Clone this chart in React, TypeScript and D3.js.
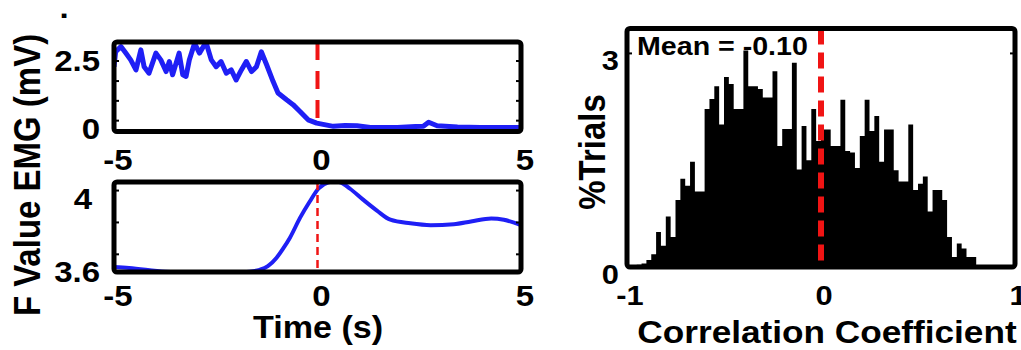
import React from "react";
import * as d3 from "d3";

// EMG (mV), top left panel
const emgTime = [
  -5.0, -4.96, -4.83, -4.71, -4.59, -4.46, -4.34, -4.26, -4.14, -3.97, -3.85, -3.72, -3.64, -3.56,
  -3.4, -3.31, -3.23, -3.15, -3.02, -2.9, -2.74, -2.61, -2.49, -2.37, -2.24, -2.12, -2.0, -1.87,
  -1.75, -1.62, -1.5, -1.38, -1.25, -1.09, -0.97, -0.76, -0.6, -0.43, -0.23, -0.02, 0.39, 0.68,
  0.97, 1.3, 1.96, 2.41, 2.6, 2.73, 2.94, 3.44, 4.01, 5.0,
];
const emgValue = [
  2.25, 2.8, 2.99, 2.75, 2.5, 2.13, 2.87, 2.25, 2.01, 2.75, 2.5, 2.07, 2.44, 1.95,
  2.75, 1.95, 1.89, 2.5, 3.11, 2.75, 3.15, 2.5, 2.25, 2.44, 2.01, 2.13, 1.76, 2.13,
  2.44, 2.07, 2.25, 2.8, 2.32, 1.7, 1.28, 1.03, 0.85, 0.6, 0.29, 0.17, 0.05, 0.08,
  0.07, 0.01, 0.01, 0.04, 0.05, 0.2, 0.07, 0.03, 0.01, 0.01,
];
const emgTickLabels = [0, 2.5];
const emgMinorTicks = [0.26, 0.99, 1.72, 2.46];

// F value, bottom left panel
const fTime = [
  -5.0, -4.63, -3.74, -2.9, -2.09, -1.67, -1.42, -1.22, -1.01, -0.85, -0.68, -0.43, -0.19, 0.02,
  0.27, 0.43, 0.56, 0.8, 1.12, 1.46, 1.79, 2.28, 2.78, 3.35, 3.77, 4.27, 4.58, 5.0,
];
const fValue = [
  3.62, 3.615, 3.595, 3.59, 3.59, 3.595, 3.605, 3.625, 3.67, 3.72, 3.78, 3.89, 3.98, 4.05,
  4.085, 4.09, 4.085, 4.05, 3.99, 3.93, 3.88, 3.86, 3.85, 3.855, 3.87, 3.887, 3.88, 3.85,
];
const fTickLabels = [3.6, 4];
const fMinorTicks = [3.69, 3.865, 4.04];
const timeTicks = [-5, 0, 5];

// correlation coefficient histogram, % trials per bin
const histStart = -1;
const histBinWidth = 0.025;
const histPercent = [
  0, 0, 0.03, 0.05, 0.1, 0.18, 0.49, 0.3, 0.71, 0.42, 0.94, 1.24, 1.14, 1.48, 1.06, 1.06,
  2.22, 2.36, 2.54, 2.0, 2.67, 2.57, 2.22, 2.22, 3.04, 2.54, 2.54, 2.5, 2.38, 2.38, 2.75, 1.7,
  1.94, 1.94, 2.87, 1.37, 1.98, 1.5, 2.22, 1.77, 1.93, 1.93, 1.7, 1.7, 2.35, 1.63, 1.61, 1.39,
  1.84, 2.35, 1.91, 2.12, 1.48, 1.93, 1.93, 1.36, 1.2, 1.2, 2.0, 1.08, 1.17, 1.27, 0.78, 1.08,
  1.08, 0.94, 0.42, 0.14, 0.33, 0.26, 0.14, 0.14, 0, 0, 0, 0, 0, 0, 0, 0,
];
const corrTicks = [-1, 0, 1];
const pctTicks = [0, 3];
const zeroLine = 0;
const meanLabel = "Mean = -0.10";

const FONT = "'Liberation Sans', Arial, sans-serif";
const BLUE = "#1f1ff5";
const RED = "#f01414";

const T = ({ x, y, size, anchor = "middle", rotate = false, children }: any) => (
  <text
    transform={`translate(${x},${y}) scale(1.1,1)${rotate ? " rotate(-90)" : ""}`}
    textAnchor={anchor}
    fontSize={size}
    fontWeight="bold"
    fontFamily={FONT}
    fill="#000"
  >
    {children}
  </text>
);

export default function App() {
  // time panels share the x scale
  const xTime = d3.scaleLinear().domain([-5, 5]).range([114, 521]);

  const yEmg = d3.scaleLinear().domain([-0.14, 3.16]).range([131.5, 42]);
  const yF = d3.scaleLinear().domain([3.593, 4.087]).range([272, 182]);

  const xCorr = d3.scaleLinear().domain([-1, 1]).range([627, 1015]);
  const yPct = d3.scaleLinear().domain([0, 3.35]).range([267, 28.5]);

  const emgLine = d3
    .line<number>()
    .x((_, i) => xTime(emgTime[i]))
    .y((d) => yEmg(d));
  const fLine = d3
    .line<number>()
    .x((_, i) => xTime(fTime[i]))
    .y((d) => yF(d))
    .curve(d3.curveMonotoneX);

  // histogram as one stepped area, so no seams between bars
  const bins = histPercent
    .map((p, i) => ({ x: histStart + i * histBinWidth, p }))
    .concat([{ x: histStart + histPercent.length * histBinWidth, p: 0 }]);
  const histArea = d3
    .area<{ x: number; p: number }>()
    .x((d) => xCorr(d.x))
    .y0(yPct(0))
    .y1((d) => yPct(d.p))
    .curve(d3.curveStepAfter);

  const minor = (ticks: number[], y: any, x0: number, x1: number) =>
    ticks.map((t) => (
      <g key={t}>
        <line x1={x0} x2={x0 + 5} y1={y(t)} y2={y(t)} stroke="#000" strokeWidth={2} />
        <line x1={x1} x2={x1 - 5} y1={y(t)} y2={y(t)} stroke="#000" strokeWidth={2} />
      </g>
    ));

  return (
    <svg width={1021} height={350} style={{ position: "absolute", left: 0, top: 0, background: "#fff" }}>
      <defs>
        <clipPath id="clipEmg">
          <rect x={114} y={42} width={407} height={89.5} />
        </clipPath>
        <clipPath id="clipF">
          <rect x={114} y={182} width={407} height={90} />
        </clipPath>
        <clipPath id="clipHist">
          <rect x={627} y={28.5} width={388} height={238.5} />
        </clipPath>
      </defs>

      <T x={64} y={18} size={30}>.</T>

      {/* top left: EMG */}
      <g clipPath="url(#clipEmg)">
        <path d={emgLine(emgValue) || ""} fill="none" stroke={BLUE} strokeWidth={5} strokeLinejoin="round" />
        <line x1={xTime(0)} x2={xTime(0)} y1={42} y2={131.5} stroke={RED} strokeWidth={4} strokeDasharray="18 11" />
      </g>
      {minor(emgMinorTicks, yEmg, 114, 521)}
      <rect x={114} y={42} width={407} height={89.5} fill="none" stroke="#000" strokeWidth={5} rx={3} />
      {emgTickLabels.map((t) => (
        <T key={t} x={100} y={yEmg(t) + 11} size={30} anchor="end">{t}</T>
      ))}
      {timeTicks.map((t) => (
        <T key={t} x={xTime(t) + 4} y={169.5} size={30}>{t}</T>
      ))}

      {/* bottom left: F value */}
      <g clipPath="url(#clipF)">
        <path d={fLine(fValue) || ""} fill="none" stroke={BLUE} strokeWidth={4} />
        <line x1={xTime(0)} x2={xTime(0)} y1={182} y2={272} stroke={RED} strokeWidth={2.5} strokeDasharray="8 5" />
      </g>
      {minor(fMinorTicks, yF, 114, 521)}
      <rect x={114} y={182} width={407} height={90} fill="none" stroke="#000" strokeWidth={5} rx={3} />
      {fTickLabels.map((t) => (
        <T key={t} x={t === 4 ? 92 : 100} y={yF(t) + 11} size={30} anchor="end">{t}</T>
      ))}
      {timeTicks.map((t) => (
        <T key={t} x={xTime(t) + 4} y={306} size={30}>{t}</T>
      ))}
      <T x={318} y={338} size={31}>Time (s)</T>
      <T x={40} y={175} size={33} rotate>F Value EMG (mV)</T>

      {/* right: histogram */}
      <g clipPath="url(#clipHist)">
        <path d={histArea(bins) || ""} fill="#000" />
        <line x1={xCorr(zeroLine)} x2={xCorr(zeroLine)} y1={28.5} y2={267} stroke={RED} strokeWidth={6} strokeDasharray="16 8" />
      </g>
      {minor([3], yPct, 627, 1015)}
      <rect x={627} y={28.5} width={388} height={238.5} fill="none" stroke="#000" strokeWidth={5} rx={3} />
      <T x={637} y={55} size={26} anchor="start">{meanLabel}</T>
      {pctTicks.map((t) => (
        <T key={t} x={619} y={yPct(t) + 17} size={28} anchor="end">{t}</T>
      ))}
      {corrTicks.map((t) => (
        <T key={t} x={xCorr(t) + 3} y={305} size={28}>{t}</T>
      ))}
      <T x={827} y={343} size={32}>Correlation Coefficient</T>
      <T x={605} y={152} size={33} rotate>%Trials</T>
    </svg>
  );
}
